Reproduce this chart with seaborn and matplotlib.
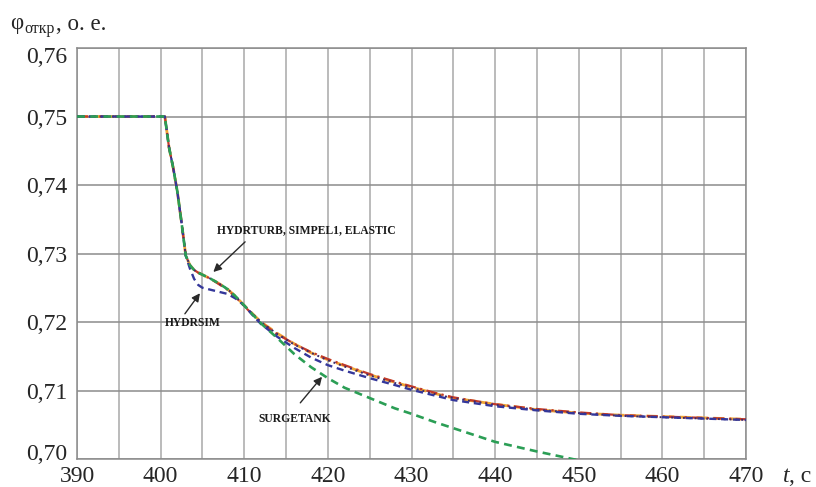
import matplotlib
matplotlib.use("Agg")
import matplotlib.pyplot as plt
import matplotlib.transforms as mtransforms
import numpy as np
import pandas as pd
import seaborn as sns

# Time grid (s) shared by the turbine-model curves
t = [390, 400, 400.5, 401, 401.5, 402, 402.5, 403, 403.5, 404, 404.5, 405,
     406, 407, 408, 409, 410, 411, 412, 414, 416, 418, 420, 422, 425, 428,
     430, 433, 435, 440, 445, 450, 455, 460, 465, 470]

# Gate opening, p.u.
hydrturb = [0.7500, 0.7500, 0.7500, 0.7455, 0.7425, 0.7390, 0.7345, 0.7297, 0.7283,
            0.7276, 0.7272, 0.7269, 0.7263, 0.7256, 0.7248, 0.7237, 0.7224, 0.7212,
            0.7200, 0.7183, 0.7168, 0.7155, 0.7145, 0.7136, 0.7123, 0.7112, 0.7105,
            0.7095, 0.7089, 0.7080, 0.7072, 0.7067, 0.7064, 0.7062, 0.7060, 0.7058]
simpel1 = [0.7500, 0.7500, 0.7500, 0.7455, 0.7425, 0.7390, 0.7345, 0.7297, 0.7283,
           0.7276, 0.7272, 0.7269, 0.7263, 0.7255, 0.7247, 0.7236, 0.7223, 0.7211,
           0.7199, 0.7182, 0.7168, 0.7156, 0.7146, 0.7137, 0.7124, 0.7113, 0.7106,
           0.7096, 0.7090, 0.7080, 0.7073, 0.7068, 0.7064, 0.7062, 0.7060, 0.7058]
elastic = [0.7500, 0.7500, 0.7500, 0.7455, 0.7425, 0.7390, 0.7345, 0.7297, 0.7283,
           0.7276, 0.7272, 0.7269, 0.7263, 0.7256, 0.7248, 0.7237, 0.7224, 0.7212,
           0.7200, 0.7182, 0.7167, 0.7155, 0.7144, 0.7135, 0.7122, 0.7111, 0.7104,
           0.7094, 0.7089, 0.7079, 0.7072, 0.7067, 0.7063, 0.7061, 0.7059, 0.7057]
hydrsim = [0.7500, 0.7500, 0.7500, 0.7455, 0.7425, 0.7390, 0.7345, 0.7297, 0.7278,
           0.7263, 0.7254, 0.7250, 0.7247, 0.7244, 0.7241, 0.7234, 0.7224, 0.7210,
           0.7197, 0.7178, 0.7162, 0.7148, 0.7137, 0.7129, 0.7118, 0.7108, 0.7101,
           0.7092, 0.7086, 0.7077, 0.7071, 0.7066, 0.7063, 0.7061, 0.7059, 0.7057]

# Surge-tank model diverges downward after ~412 s
t_surge = [390, 400, 400.5, 401, 401.5, 402, 402.5, 403, 403.5, 404, 404.5, 405,
           406, 407, 408, 409, 410, 411, 412, 414, 416, 418, 420, 422, 425, 428,
           430, 433, 435, 440, 445, 450]
surgetank = [0.7500, 0.7500, 0.7500, 0.7455, 0.7425, 0.7390, 0.7345, 0.7297, 0.7283,
             0.7276, 0.7272, 0.7269, 0.7263, 0.7256, 0.7248, 0.7237, 0.7224, 0.7211,
             0.7198, 0.7176, 0.7153, 0.7134, 0.7118, 0.7104, 0.7089, 0.7074, 0.7066,
             0.7053, 0.7045, 0.7025, 0.7011, 0.6998]

x_ticks = [390, 400, 410, 420, 430, 440, 450, 460, 470]
y_ticks = [0.70, 0.71, 0.72, 0.73, 0.74, 0.75, 0.76]
y_tick_labels = ["0,70", "0,71", "0,72", "0,73", "0,74", "0,75", "0,76"]

sns.set_style("white")
plt.rcParams["font.family"] = ["Liberation Serif", "DejaVu Serif"]

fig = plt.figure(figsize=(8.16, 4.87), dpi=100)
ax = fig.add_axes([0.0944, 0.0575, 0.8198, 0.8439])

series = [
    (t, hydrturb, "#f0a534", (0, (4, 2)), 2.0),
    (t, simpel1, "#c23a2a", (0, (5, 2, 1, 2)), 1.6),
    (t, elastic, "#3b2a6a", (0, (1, 2)), 1.4),
    (t, hydrsim, "#34379a", (0, (3, 2)), 1.7),
    (t_surge, surgetank, "#2b9e55", (0, (3, 2)), 1.9),
]
for xs, ys, col, ls, lw in series:
    df = pd.DataFrame({"t": xs, "phi": ys})
    sns.lineplot(data=df, x="t", y="phi", ax=ax, color=col, linestyle=ls,
                 linewidth=lw, zorder=3)

ax.set_xlim(390, 470)
ax.set_ylim(0.70, 0.76)
ax.set_xticks(x_ticks)
ax.set_xticks(np.arange(395, 470, 10), minor=True)
ax.set_yticks(y_ticks)
ax.set_yticklabels(y_tick_labels)
ax.grid(True, which="both", axis="x", color="#a8a8a8", linewidth=1.1)
ax.grid(True, which="major", axis="y", color="#8c8c8c", linewidth=1.1)
ax.tick_params(axis="both", which="both", length=0, labelsize=17)
ax.tick_params(axis="x", pad=5)
ax.tick_params(axis="y", pad=7)
ax.set_xlabel("")
ax.set_ylabel("")
for side, sp in ax.spines.items():
    sp.set_color("#8c8c8c")
    sp.set_linewidth(1.1)

# Nudge the end labels of the y axis inward, clear of the corner labels
ylabels = ax.get_yticklabels()
ylabels[0].set_transform(ylabels[0].get_transform() +
                         mtransforms.ScaledTranslation(0, 7 / 100, fig.dpi_scale_trans))
ylabels[-1].set_transform(ylabels[-1].get_transform() +
                          mtransforms.ScaledTranslation(0, -7 / 100, fig.dpi_scale_trans))

# Curve labels with arrows
lbl = dict(fontsize=8.4, fontweight="bold", family="Liberation Serif", color="#1a1a1a")
arrow = dict(arrowstyle="-|>", color="#2a2a2a", lw=1.0, mutation_scale=12,
             shrinkA=0, shrinkB=0)
ax.annotate("", xy=(406.3, 0.7273), xytext=(410.1, 0.7317), arrowprops=arrow, zorder=4)
ax.text(417.4, 0.7334, "HYDRTURB, SIMPEL1, ELASTIC", ha="center", va="center", **lbl)
ax.annotate("", xy=(404.7, 0.7242), xytext=(402.9, 0.7212), arrowprops=arrow, zorder=4)
ax.text(403.9, 0.7199, "HYDRSIM", ha="center", va="center", **lbl)
ax.annotate("", xy=(419.3, 0.7120), xytext=(416.7, 0.7082), arrowprops=arrow, zorder=4)
ax.text(416.1, 0.7058, "SURGETANK", ha="center", va="center", **lbl)

# Axis titles
fig.text(10 / 816, 1 - 24 / 487, "φ", fontsize=16.5, va="center", ha="left")
fig.text(24 / 816, 1 - 29 / 487, "откр", fontsize=11.5, va="center", ha="left")
fig.text(56 / 816, 1 - 24 / 487, ", о. е.", fontsize=16.5, va="center", ha="left")
fig.text(783 / 816, 1 - 476 / 487, "t", fontsize=17, style="italic", va="center", ha="left")
fig.text(789 / 816, 1 - 476 / 487, ", с", fontsize=17, va="center", ha="left")

fig.savefig("out.png", dpi=100)
